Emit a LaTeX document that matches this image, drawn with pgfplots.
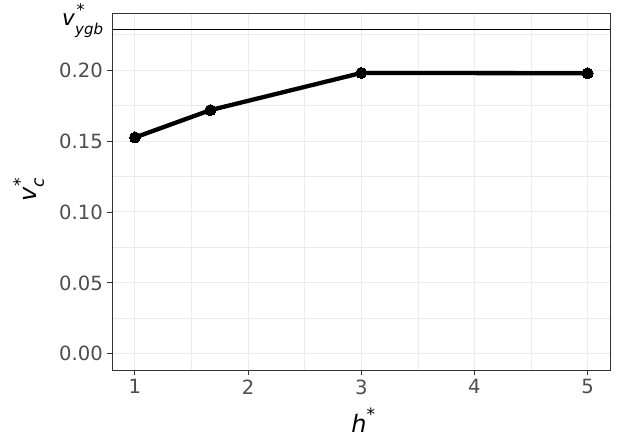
\documentclass[border=0pt]{standalone}
\usepackage{pgfplots}
\pgfplotsset{compat=1.18}
\usepackage{fontspec}
\setmainfont{DejaVu Sans}
\definecolor{grid92}{HTML}{EBEBEB}
\definecolor{grey20}{HTML}{333333}
\definecolor{grey30}{HTML}{4D4D4D}
\begin{document}
\begin{tikzpicture}
\path[use as bounding box] (-112.3pt,-75pt) rectangle (510.7pt,370pt);
\begin{axis}[
  at={(0,0)}, anchor=south west,
  scale only axis, width=498pt, height=356.7pt,
  xmin=0.8, xmax=5.2, ymin=-0.01143, ymax=0.24006,
  xtick={1,2,3,4,5}, ytick={0,0.05,0.1,0.15,0.2},
  minor xtick={1.5,2.5,3.5,4.5}, minor ytick={0.025,0.075,0.125,0.175,0.225},
  xticklabels={1,2,3,4,5},
  yticklabels={0.00,0.05,0.10,0.15,0.20},
  grid=both,
  major grid style={grid92, line width=1pt},
  minor grid style={grid92, line width=0.5pt},
  axis line style={grey20, line width=0.9pt},
  tick style={grey20, line width=0.9pt},
  tick align=outside, tick pos=left,
  major tick length=5pt, minor tick length=0pt,
  ticklabel style={font=\fontsize{19.6}{20}\selectfont, text=grey30},
  xticklabel style={yshift=-1pt},
  yticklabel style={xshift=-1pt},
  clip=false,
  axis on top=false,
]
\addplot[black, line width=0.9pt, forget plot] coordinates {(0.8,0.2286) (5.2,0.2286)};
\addplot[black, line width=4.3pt, mark=*, mark size=5.5pt, mark options={line width=0pt}] coordinates {
(1,0.1525) (1.6667,0.1718) (3,0.1980) (5,0.1978)
};
\node[anchor=base east, inner sep=0pt] at (axis cs:0.8,0.2286) [xshift=-9pt, yshift=3.7pt]
  {\fontsize{21.5}{22}\selectfont\textit{v}\rlap{\kern1.5pt\raisebox{10.3pt}{\fontsize{16}{16}\selectfont *}}\raisebox{-8.3pt}{\fontsize{15}{15}\selectfont\textit{ygb}}};
\node[xshift=-75.3pt, yshift=1.7pt, rotate=90, anchor=base, inner sep=0pt] at (rel axis cs:0,0.5)
  {\fontsize{24}{24}\selectfont\textit{v}\rlap{\kern1pt\raisebox{11pt}{\fontsize{17}{17}\selectfont *}}\raisebox{-7pt}{\fontsize{17}{17}\selectfont\textit{c}}};
\node[anchor=base, inner sep=0pt] at (axis cs:3,0) [yshift=-78.7pt, xshift=2pt]
  {\fontsize{24}{24}\selectfont\textit{h}\raisebox{0.5em}{\fontsize{17}{17}\selectfont *}};
\end{axis}
\end{tikzpicture}
\end{document}
